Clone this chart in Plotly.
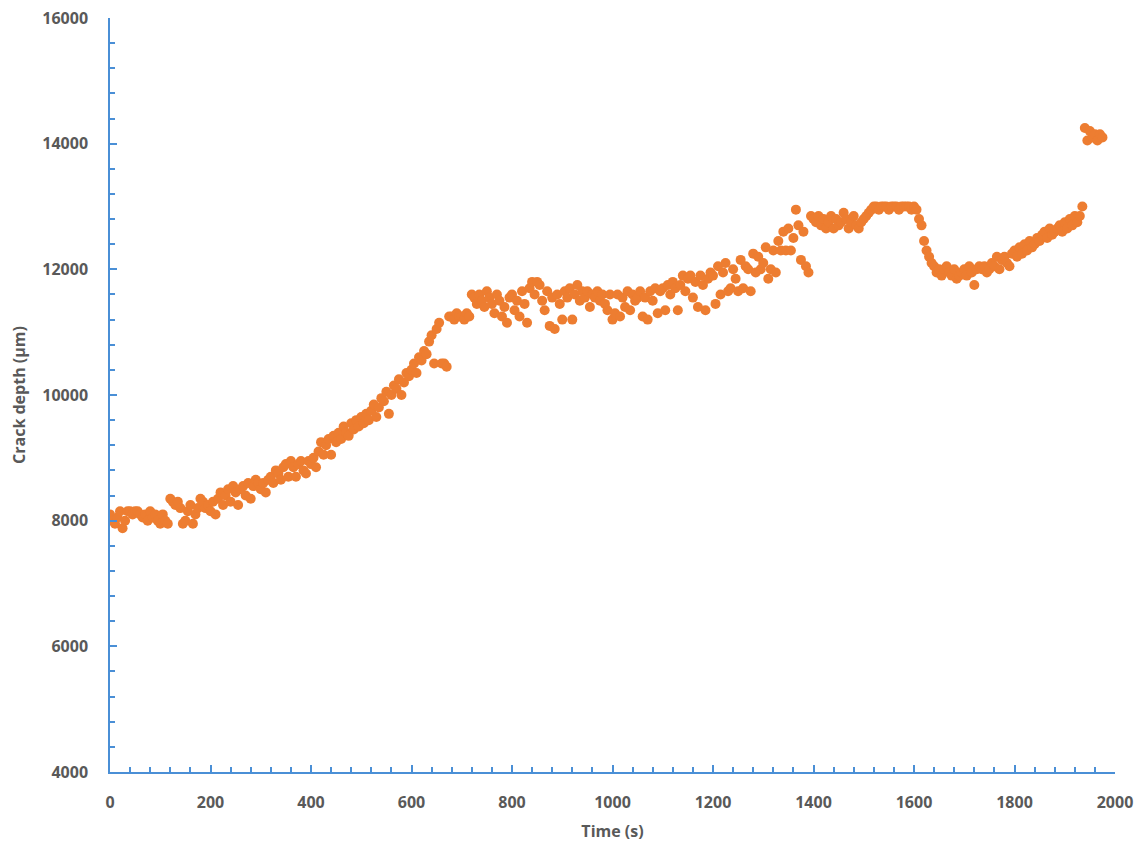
import plotly.graph_objects as go

# Time sampling grid (s), one reading every 5 s
time_s = list(range(0, 1980, 5))

# Crack depth readings (µm), rows of 100 s each
depth_um = [
    8100, 8000, 7950, 8050, 8150, 7880, 8000, 8150, 8150, 8100, 8150, 8150, 8100, 8050, 8100, 8000, 8150, 8050, 8100, 8000,
    7950, 8100, 8000, 7950, 8350, 8300, 8250, 8300, 8200, 7950, 8000, 8150, 8250, 7950, 8100, 8200, 8350, 8300, 8200, 8250,
    8150, 8300, 8100, 8350, 8450, 8250, 8400, 8500, 8300, 8550, 8450, 8250, 8500, 8550, 8400, 8600, 8350, 8550, 8650, 8600,
    8500, 8600, 8450, 8650, 8700, 8600, 8800, 8750, 8650, 8850, 8900, 8700, 8950, 8850, 8700, 8900, 8950, 8800, 8750, 8950,
    8900, 9000, 8850, 9100, 9250, 9050, 9200, 9300, 9050, 9350, 9250, 9400, 9300, 9500, 9400, 9350, 9550, 9450, 9600, 9500,
    9650, 9550, 9700, 9600, 9750, 9850, 9650, 9800, 9950, 9900, 10050, 9700, 10000, 10150, 10100, 10250, 10000, 10200, 10350, 10300,
    10400, 10500, 10350, 10600, 10550, 10700, 10650, 10850, 10950, 10500, 11050, 11150, 10500, 10500, 10450, 11250, 11250, 11200, 11300, 11250,
    11250, 11200, 11300, 11250, 11600, 11550, 11450, 11600, 11500, 11400, 11650, 11550, 11450, 11300, 11600, 11500, 11250, 11400, 11150, 11550,
    11600, 11350, 11500, 11250, 11650, 11450, 11150, 11700, 11800, 11600, 11800, 11750, 11500, 11350, 11650, 11100, 11550, 11050, 11600, 11450,
    11200, 11650, 11550, 11700, 11200, 11600, 11750, 11500, 11650, 11550, 11650, 11400, 11600, 11550, 11650, 11500, 11600, 11450, 11350, 11600,
    11200, 11300, 11600, 11250, 11550, 11400, 11650, 11350, 11600, 11500, 11550, 11650, 11250, 11550, 11200, 11650, 11500, 11700, 11300, 11650,
    11700, 11350, 11750, 11600, 11800, 11700, 11350, 11750, 11900, 11650, 11850, 11900, 11550, 11800, 11400, 11900, 11750, 11350, 11850, 11950,
    11900, 11450, 12050, 11600, 11950, 12100, 11650, 11700, 12000, 11850, 11650, 12150, 11700, 12050, 12000, 11650, 12250, 11950, 12200, 12000,
    12100, 12350, 11850, 12000, 12300, 11950, 12450, 12300, 12600, 12300, 12650, 12300, 12500, 12950, 12700, 12150, 12600, 12050, 11950, 12850,
    12800, 12750, 12850, 12700, 12800, 12650, 12750, 12850, 12650, 12800, 12700, 12750, 12900, 12800, 12650, 12750, 12850, 12700, 12650, 12750,
    12800, 12850, 12900, 12950, 13000, 13000, 12950, 13000, 13000, 13000, 12950, 13000, 13000, 13000, 12950, 13000, 13000, 13000, 13000, 12950,
    13000, 12950, 12800, 12700, 12450, 12300, 12200, 12100, 12050, 11950, 12000, 11900, 12000, 12050, 11950, 11900, 12000, 11850, 11900, 11950,
    12000, 11900, 12050, 11950, 11750, 12000, 12050, 12000, 12050, 11950, 12000, 12100, 12050, 12200, 12000, 12150, 12200, 12100, 12050, 12250,
    12300, 12200, 12350, 12250, 12400, 12300, 12450, 12350, 12400, 12500, 12450, 12550, 12600, 12500, 12650, 12550, 12600, 12650, 12700, 12600,
    12750, 12650, 12800, 12700, 12850, 12750, 12850, 13000, 14250, 14050, 14200, 14100, 14150, 14050, 14150, 14100,
]

x_ticks = [0, 200, 400, 600, 800, 1000, 1200, 1400, 1600, 1800, 2000]
y_ticks = [4000, 6000, 8000, 10000, 12000, 14000, 16000]

AXIS_BLUE = "#4A8FD6"
LABEL_GREY = "#595959"
FONT = "Open Sans"

fig = go.Figure()
fig.add_trace(go.Scatter(
    x=time_s, y=depth_um, mode="markers",
    marker=dict(size=10, color="#ED7D31", line=dict(width=0)),
    showlegend=False,
))

axis_common = dict(
    showgrid=False, zeroline=False,
    showline=True, linecolor=AXIS_BLUE, linewidth=1.5,
    ticks="inside", ticklen=7, tickwidth=1.5, tickcolor=AXIS_BLUE,
    tickfont=dict(family=FONT, size=16, color=LABEL_GREY, weight="bold"),
    ticklabeloverflow="allow",
)

fig.update_xaxes(
    **axis_common,
    range=[0, 2000], tickvals=x_ticks, ticktext=[str(v) for v in x_ticks],
    minor=dict(ticks="inside", ticklen=5, tickwidth=1.5, tickcolor=AXIS_BLUE, dtick=40, showgrid=False),
    ticklabelstandoff=15,
    title=dict(text="Time (s)", font=dict(family=FONT, size=16, color=LABEL_GREY, weight="bold"), standoff=14),
)
fig.update_yaxes(
    **axis_common,
    range=[4000, 16000], tickvals=y_ticks, ticktext=[str(v) for v in y_ticks],
    minor=dict(ticks="inside", ticklen=5, tickwidth=1.5, tickcolor=AXIS_BLUE, dtick=400, showgrid=False),
    ticklabelstandoff=17,
    title=dict(text="Crack depth (µm)", font=dict(family=FONT, size=16, color=LABEL_GREY, weight="bold"), standoff=17),
)

fig.update_layout(
    width=1144, height=843,
    margin=dict(l=102, r=37, t=10, b=79, autoexpand=False),
    plot_bgcolor="white", paper_bgcolor="white",
)

fig.write_html("out.html")
